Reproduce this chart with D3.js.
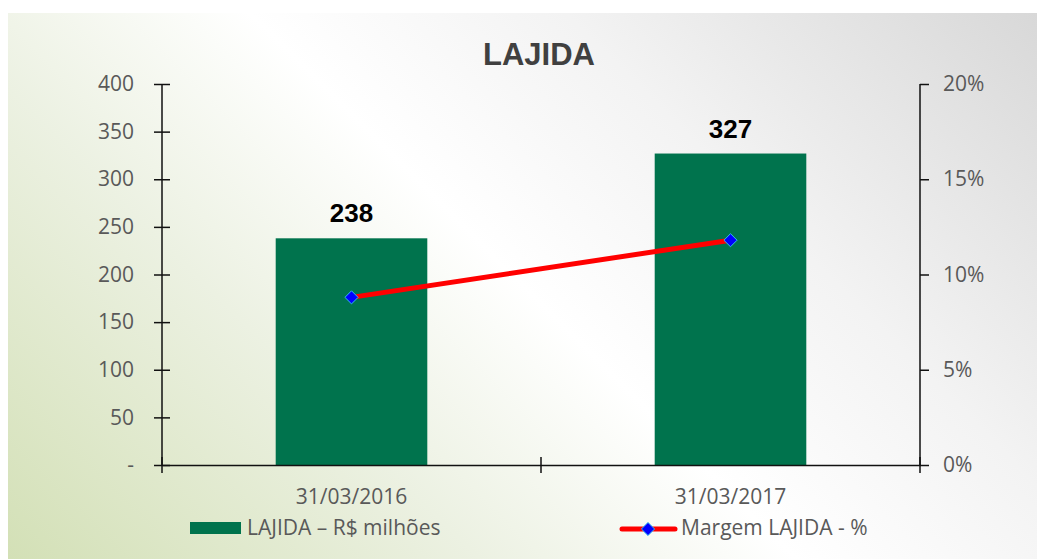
<!DOCTYPE html>
<html>
<head>
<meta charset="utf-8">
<script src="https://cdn.jsdelivr.net/npm/d3@7"></script>
<style>
  html, body { margin: 0; padding: 0; background: #fff; }
  svg { display: block; }
</style>
</head>
<body>
<div id="chart"></div>
<script>
'use strict';

var categories = ['31/03/2016', '31/03/2017'];
var lajida = [238, 327];
var margem = [0.088, 0.118];
var leftTicks = [0, 50, 100, 150, 200, 250, 300, 350, 400];
var rightTicks = [0, 0.05, 0.10, 0.15, 0.20];
var seriesNames = ['LAJIDA \u2013 R$ milh\u00f5es', 'Margem LAJIDA - %'];
var title = 'LAJIDA';

var width = 1037,
  height = 559,
  plotLeft = 162,
  plotRight = 920,
  plotTop = 84,
  plotBottom = 465;

var font = '"Open Sans", "Liberation Sans", sans-serif';
var textColor = '#595959';

var svg = d3.select('#chart').append('svg')
  .attr('width', width)
  .attr('height', height);

// background gradient: green bottom-left, white middle, grey top-right
var grad = svg.append('defs').append('linearGradient')
  .attr('id', 'bg')
  .attr('gradientUnits', 'userSpaceOnUse')
  .attr('x1', 8).attr('y1', 559)
  .attr('x2', 795.5).attr('y2', -228.5);
[[0, '#d3e0b6'], [0.3, '#ecf1e2'], [0.5, '#ffffff'], [0.7, '#f3f3f3'], [1, '#d8d8d8']]
  .forEach(s => grad.append('stop').attr('offset', s[0]).attr('stop-color', s[1]));

svg.append('rect')
  .attr('x', 8).attr('y', 13)
  .attr('width', width - 8).attr('height', height - 13)
  .attr('fill', 'url(#bg)');

var x = d3.scaleBand()
  .domain(categories)
  .range([plotLeft, plotRight])
  .paddingInner(0.6)
  .paddingOuter(0.3);

var yLeft = d3.scaleLinear().domain([0, 400]).range([plotBottom, plotTop]);
var yRight = d3.scaleLinear().domain([0, 0.2]).range([plotBottom, plotTop]);

// bars
svg.selectAll('.bar')
  .data(lajida)
  .enter().append('rect')
  .attr('class', 'bar')
  .attr('x', (d, i) => x(categories[i]))
  .attr('y', d => yLeft(d))
  .attr('width', x.bandwidth())
  .attr('height', d => plotBottom - yLeft(d))
  .attr('fill', '#00734d');

// bar value labels
svg.selectAll('.value')
  .data(lajida)
  .enter().append('text')
  .attr('class', 'value')
  .attr('x', (d, i) => x(categories[i]) + x.bandwidth() / 2)
  .attr('y', d => yLeft(d) - 16)
  .attr('text-anchor', 'middle')
  .style('font-family', '"Liberation Sans", Arial, sans-serif')
  .style('font-weight', 'bold')
  .style('font-size', '26px')
  .attr('fill', '#000')
  .text(d => d);

// axes
var axisColor = '#111';
var leftAxis = svg.append('g')
  .attr('transform', 'translate(' + plotLeft + ',0)')
  .call(d3.axisLeft(yLeft).tickValues(leftTicks).tickSize(8).tickFormat(d => d === 0 ? '-' : d));
leftAxis.selectAll('.tick line').attr('x2', 8).attr('x1', -8);
leftAxis.selectAll('.tick text').attr('x', -28);

var rightAxis = svg.append('g')
  .attr('transform', 'translate(' + plotRight + ',0)')
  .call(d3.axisRight(yRight).tickValues(rightTicks).tickSize(9).tickFormat(d3.format('.0%')));
rightAxis.selectAll('.tick text').attr('x', 23);

var xAxis = svg.append('g')
  .attr('transform', 'translate(0,' + plotBottom + ')')
  .call(d3.axisBottom(x).tickSize(0).tickPadding(24));

// cross ticks on the category axis at band edges
svg.selectAll('.xtick')
  .data([plotLeft, (plotLeft + plotRight) / 2, plotRight])
  .enter().append('line')
  .attr('class', 'xtick')
  .attr('x1', d => d).attr('x2', d => d)
  .attr('y1', plotBottom - 8).attr('y2', plotBottom + 8)
  .attr('stroke', axisColor)
  .attr('stroke-width', 1.5);

[leftAxis, rightAxis, xAxis].forEach(function (g) {
  g.selectAll('.domain').attr('stroke', axisColor).attr('stroke-width', 1.5);
  g.selectAll('.tick line').attr('stroke', axisColor).attr('stroke-width', 1.5);
  g.selectAll('.tick text')
    .style('font-family', font)
    .style('font-size', '21px')
    .attr('fill', textColor);
});
leftAxis.select('.domain').attr('d', 'M0,' + plotTop + 'V' + plotBottom);
rightAxis.select('.domain').attr('d', 'M0,' + plotTop + 'V' + plotBottom);

// margin line
var line = d3.line()
  .x((d, i) => x(categories[i]) + x.bandwidth() / 2)
  .y(d => yRight(d));

svg.append('path')
  .datum(margem)
  .attr('d', line)
  .attr('fill', 'none')
  .attr('stroke', '#ff0000')
  .attr('stroke-width', 5);

var diamond = d3.symbol().type(d3.symbolDiamond2).size(110);

svg.selectAll('.marker')
  .data(margem)
  .enter().append('path')
  .attr('class', 'marker')
  .attr('d', diamond)
  .attr('transform', (d, i) => 'translate(' + (x(categories[i]) + x.bandwidth() / 2) + ',' + yRight(d) + ')')
  .attr('fill', '#0000ff')
  .attr('stroke', '#33bbee')
  .attr('stroke-width', 1);

// title
svg.append('text')
  .attr('x', 539)
  .attr('y', 65)
  .attr('text-anchor', 'middle')
  .style('font-family', '"Liberation Sans", Arial, sans-serif')
  .style('font-weight', 'bold')
  .style('font-size', '31px')
  .attr('fill', '#404040')
  .text(title);

// legend
var legend = svg.append('g');
legend.append('rect')
  .attr('x', 190).attr('y', 522)
  .attr('width', 51).attr('height', 12)
  .attr('fill', '#00734d');
legend.append('text')
  .attr('x', 247).attr('y', 535)
  .style('font-family', font)
  .style('font-size', '21px')
  .attr('fill', textColor)
  .text(seriesNames[0]);

legend.append('line')
  .attr('x1', 622).attr('x2', 675)
  .attr('y1', 529).attr('y2', 529)
  .attr('stroke', '#ff0000')
  .attr('stroke-width', 5)
  .attr('stroke-linecap', 'round');
legend.append('path')
  .attr('d', diamond)
  .attr('transform', 'translate(648,529)')
  .attr('fill', '#0000ff')
  .attr('stroke', '#33bbee')
  .attr('stroke-width', 1);
legend.append('text')
  .attr('x', 681).attr('y', 535)
  .style('font-family', font)
  .style('font-size', '21px')
  .attr('fill', textColor)
  .text(seriesNames[1]);
</script>
</body>
</html>
